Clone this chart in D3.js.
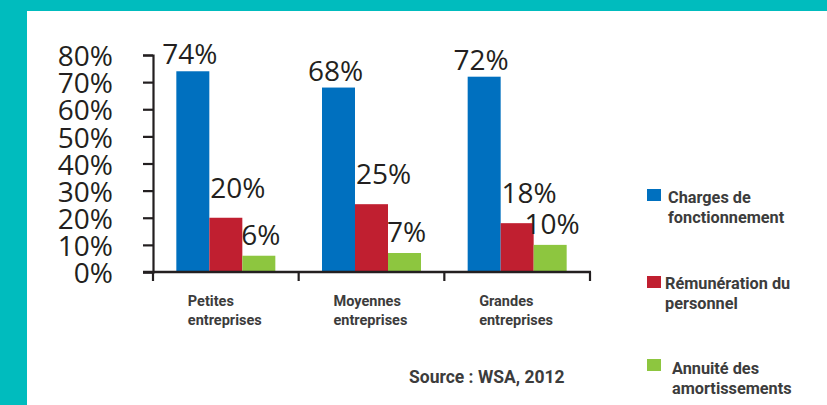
<!DOCTYPE html>
<html>
<head>
<script src="https://d3js.org/d3.v7.min.js"></script>
<style>
body { margin: 0; background: #00bcbe; }
svg { display: block; }
</style>
</head>
<body>
<script>
var categories = ['Petites entreprises', 'Moyennes entreprises', 'Grandes entreprises'];
var seriesNames = ['Charges de fonctionnement', 'Rémunération du personnel', 'Annuité des amortissements'];
var charges = [74, 68, 72];
var remuneration = [20, 25, 18];
var annuite = [6, 7, 10];
var yTicks = [0, 10, 20, 30, 40, 50, 60, 70, 80];
var source = 'Source : WSA, 2012';

var series = [charges, remuneration, annuite];
var colors = ['#0070bf', '#c01f30', '#8dc63f'];
// label placement per series (dx from bar centre, gap above bar)
var labelDx = [-3, 12, 2];
var labelGap = [7, 20, 11];

var width = 827, height = 405;

var svg = d3.select('body').append('svg')
    .attr('width', width)
    .attr('height', height);

svg.append('rect')
    .attr('x', 27).attr('y', 11)
    .attr('width', width - 27).attr('height', height - 11)
    .attr('fill', '#ffffff');

var x0 = d3.scaleBand()
    .domain(categories)
    .range([153, 590])
    .paddingInner(0)
    .paddingOuter(0);

var x1 = d3.scaleBand()
    .domain([0, 1, 2])
    .range([0, 99]);

var y = d3.scaleLinear()
    .domain([0, 80])
    .range([272, 55]);

var ink = '#231f20';
var grey = '#3c3c3c';

// bars
var groups = svg.selectAll('.grp')
    .data(categories)
    .enter()
    .append('g')
    .attr('transform', function(d) { return 'translate(' + (x0(d) + x0.bandwidth() / 2 - 49.5) + ',0)'; });

groups.selectAll('rect')
    .data(function(d, i) { return series.map(function(s, j) { return { s: j, v: s[i] }; }); })
    .enter()
    .append('rect')
    .attr('x', function(d) { return x1(d.s); })
    .attr('y', function(d) { return y(d.v); })
    .attr('width', x1.bandwidth())
    .attr('height', function(d) { return y(0) - y(d.v); })
    .attr('fill', function(d) { return colors[d.s]; });

groups.selectAll('text')
    .data(function(d, i) { return series.map(function(s, j) { return { s: j, v: s[i] }; }); })
    .enter()
    .append('text')
    .attr('x', function(d) { return x1(d.s) + x1.bandwidth() / 2 + labelDx[d.s]; })
    .attr('y', function(d) { return y(d.v) - labelGap[d.s]; })
    .attr('text-anchor', 'middle')
    .attr('font-family', 'Open Sans, sans-serif')
    .attr('font-size', 28)
    .attr('fill', ink)
    .text(function(d) { return d.v + '%'; });

// y axis
var yAxis = d3.axisLeft(y)
    .tickValues(yTicks)
    .tickSize(10)
    .tickPadding(30)
    .tickFormat(function(d) { return d + '%'; });

var gy = svg.append('g')
    .attr('transform', 'translate(153,0)')
    .call(yAxis);
gy.select('.domain').attr('stroke', ink).attr('stroke-width', 2.2);
gy.selectAll('.tick line').attr('stroke', ink).attr('stroke-width', 2.2);
gy.selectAll('.tick text')
    .attr('fill', ink)
    .attr('font-family', 'Open Sans, sans-serif')
    .attr('font-size', 28)
    .attr('dy', '0.38em');

// x axis
svg.append('line')
    .attr('x1', 143).attr('x2', 591)
    .attr('y1', y(0)).attr('y2', y(0))
    .attr('stroke', ink).attr('stroke-width', 2.4);

var xTickPos = [x0.range()[0]].concat(categories.map(function(c) { return x0(c) + x0.bandwidth(); }));
svg.selectAll('.xt')
    .data(xTickPos)
    .enter()
    .append('line')
    .attr('x1', function(d) { return d; }).attr('x2', function(d) { return d; })
    .attr('y1', y(0)).attr('y2', y(0) + 9)
    .attr('stroke', ink).attr('stroke-width', 2.2);

// category labels
var catText = svg.selectAll('.cat')
    .data(categories)
    .enter()
    .append('text')
    .attr('x', function(d) { return x0(d) + x0.bandwidth() / 2 - 38; })
    .attr('y', 306)
    .attr('font-family', 'Roboto, sans-serif')
    .attr('font-weight', 700)
    .attr('font-size', 14.5)
    .attr('fill', grey);
catText.each(function(d) {
    var parts = d.split(' ');
    var t = d3.select(this);
    var xx = t.attr('x');
    t.append('tspan').attr('x', xx).attr('dy', 0).text(parts[0]);
    t.append('tspan').attr('x', xx).attr('dy', 19).text(parts[1]);
});

// legend
var legendRows = [
    { lines: ['Charges de', 'fonctionnement'], sq: 189, tx: 668, base: 203 },
    { lines: ['Rémunération du', 'personnel'], sq: 276, tx: 665, base: 289 },
    { lines: ['Annuité des', 'amortissements'], sq: 359, tx: 672, base: 374 }
];
var leg = svg.selectAll('.leg')
    .data(legendRows)
    .enter()
    .append('g');
leg.append('rect')
    .attr('x', 647)
    .attr('y', function(d) { return d.sq; })
    .attr('width', 14).attr('height', 12)
    .attr('fill', function(d, i) { return colors[i]; });
leg.append('text')
    .attr('font-family', 'Roboto, sans-serif')
    .attr('font-weight', 700)
    .attr('font-size', 16.3)
    .attr('fill', grey)
    .each(function(d, i) {
        var t = d3.select(this);
        t.append('tspan').attr('x', d.tx).attr('y', d.base).text(d.lines[0]);
        t.append('tspan').attr('x', d.tx).attr('y', d.base + 20).text(d.lines[1]);
    })
    .append('title').text(function(d, i) { return seriesNames[i]; });

// source
svg.append('text')
    .attr('x', 409)
    .attr('y', 383)
    .attr('font-family', 'Roboto, sans-serif')
    .attr('font-weight', 700)
    .attr('font-size', 17.5)
    .attr('fill', grey)
    .text(source);
</script>
</body>
</html>
